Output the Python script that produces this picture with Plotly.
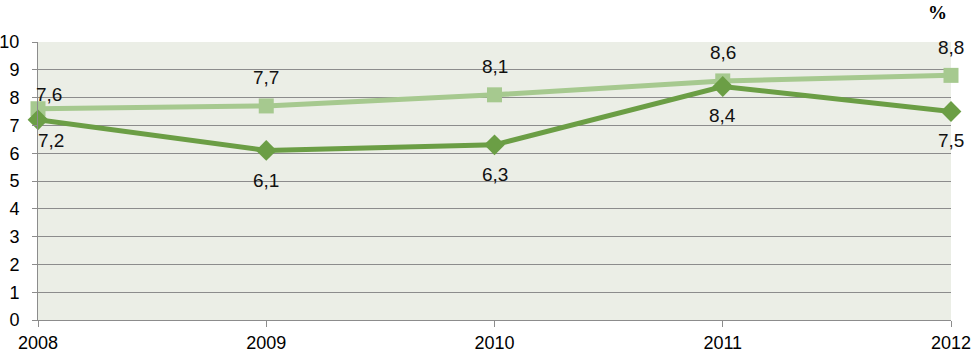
import plotly.graph_objects as go

years = [2008, 2009, 2010, 2011, 2012]
series_light = [7.6, 7.7, 8.1, 8.6, 8.8]
series_dark = [7.2, 6.1, 6.3, 8.4, 7.5]
light_labels = ["7,6", "7,7", "8,1", "8,6", "8,8"]
dark_labels = ["7,2", "6,1", "6,3", "8,4", "7,5"]
y_ticks = [0, 1, 2, 3, 4, 5, 6, 7, 8, 9, 10]

# label offsets (style only, in pixels)
light_shift = [(11, 14), (0, 28), (0, 28), (0, 28), (0, 28)]
dark_shift = [(13, -21), (0, -30), (0, -30), (0, -29), (0, -29)]

FONT = "Liberation Sans"
LIGHT = "#A6C98F"
DARK = "#6B9E45"
GRID = "#8c8c8c"

fig = go.Figure()
fig.add_trace(go.Scatter(
    x=years, y=series_light, mode="lines+markers",
    line=dict(color=LIGHT, width=5),
    marker=dict(symbol="square", size=15, color=LIGHT),
    cliponaxis=False, showlegend=False))
fig.add_trace(go.Scatter(
    x=years, y=series_dark, mode="lines+markers",
    line=dict(color=DARK, width=5),
    marker=dict(symbol="diamond", size=16, color=DARK),
    cliponaxis=False, showlegend=False))

for xv, yv, t, (dx, dy) in zip(years, series_light, light_labels, light_shift):
    fig.add_annotation(x=xv, y=yv, text=t, showarrow=False, xshift=dx, yshift=dy,
                       font=dict(family=FONT, size=19, color="#111"))
for xv, yv, t, (dx, dy) in zip(years, series_dark, dark_labels, dark_shift):
    fig.add_annotation(x=xv, y=yv, text=t, showarrow=False, xshift=dx, yshift=dy,
                       font=dict(family=FONT, size=19, color="#111"))

fig.add_annotation(text="<b>%</b>", xref="paper", yref="paper", x=0.985, y=1.0,
                   yshift=30, xanchor="center", yanchor="middle", showarrow=False,
                   font=dict(family="Liberation Serif", size=19, color="#000"))

fig.update_layout(
    width=972, height=353,
    margin=dict(l=38, r=21, t=42, b=33),
    paper_bgcolor="white", plot_bgcolor="#EBEEE6",
    font=dict(family=FONT, size=18, color="#000"),
    xaxis=dict(range=[2008, 2012], tickvals=years, ticktext=[str(y) for y in years],
               showgrid=False, zeroline=False, showline=True, linecolor=GRID,
               ticks="outside", ticklen=6, tickcolor=GRID, fixedrange=True,
               automargin=False, ticklabelstandoff=0),
    yaxis=dict(range=[0, 10], tickvals=y_ticks, showgrid=True, gridcolor=GRID,
               gridwidth=1, zeroline=False, showline=True, linecolor=GRID,
               ticks="outside", ticklen=5, tickcolor=GRID, fixedrange=True,
               automargin=False, ticklabelstandoff=9),
)
fig.write_html("out.html", config={"displayModeBar": False},
               post_script="document.body.style.margin='0';document.body.style.overflow='hidden';")
